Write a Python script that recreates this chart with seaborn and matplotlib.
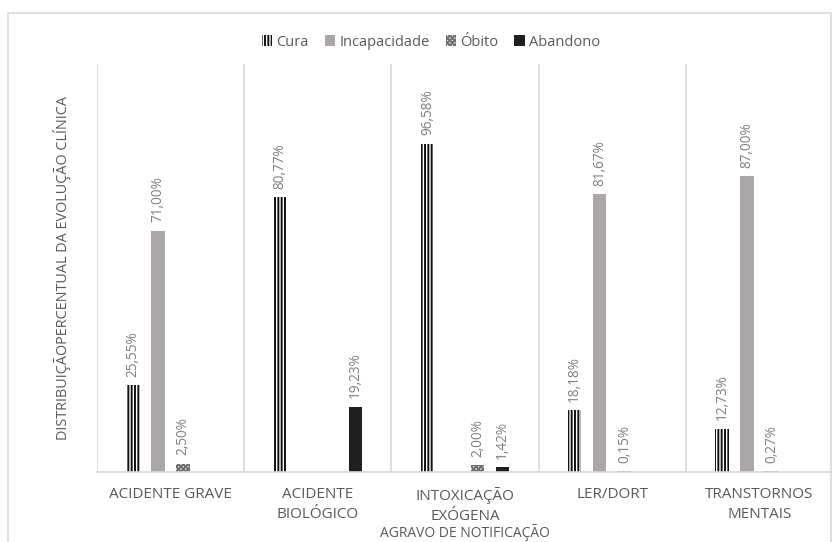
import numpy as np
import pandas as pd
import matplotlib
matplotlib.use("Agg")
import matplotlib.pyplot as plt
import matplotlib.patches as mpatches
import seaborn as sns

# Percentual da evolução clínica por agravo
agravos = ["ACIDENTE GRAVE", "ACIDENTE\nBIOLÓGICO", "INTOXICAÇÃO\nEXÓGENA",
           "LER/DORT", "TRANSTORNOS\nMENTAIS"]
evolucoes = ["Cura", "Incapacidade", "Óbito", "Abandono"]
cura = [25.55, 80.77, 96.58, 18.18, 12.73]
incapacidade = [71.00, np.nan, np.nan, 81.67, 87.00]
obito = [2.50, np.nan, 2.00, 0.15, 0.27]
abandono = [np.nan, 19.23, 1.42, np.nan, np.nan]

valores = {"Cura": cura, "Incapacidade": incapacidade,
           "Óbito": obito, "Abandono": abandono}
rows = []
for evo in evolucoes:
    for ag, v in zip(agravos, valores[evo]):
        rows.append({"agravo": ag, "evolucao": evo, "pct": v})
df = pd.DataFrame(rows)

sns.set_theme(style="white")
plt.rcParams["font.family"] = ["Open Sans", "DejaVu Sans"]
plt.rcParams["hatch.linewidth"] = 1.4

estilos = {
    "Cura": dict(facecolor="white", edgecolor="#111111", hatch="|||||"),
    "Incapacidade": dict(facecolor="#ABA7A7", edgecolor="#ABA7A7", hatch=None),
    "Óbito": dict(facecolor="white", edgecolor="#6E6E6E", hatch="xxxxxxx"),
    "Abandono": dict(facecolor="#1F1F1F", edgecolor="#1F1F1F", hatch=None),
}

fig = plt.figure(figsize=(8.32, 5.42), dpi=100)
ax = fig.add_axes([97 / 832, 70 / 542, 736 / 832, 408 / 542])

sns.barplot(data=df, x="agravo", y="pct", hue="evolucao", order=agravos,
            hue_order=evolucoes, width=0.68, gap=0.46, ax=ax, legend=False,
            errorbar=None)

texto_cinza = "#7F7F7F"
for cont, evo in zip(ax.containers, evolucoes):
    st = estilos[evo]
    for bar in cont:
        bar.set_facecolor(st["facecolor"])
        bar.set_edgecolor(st["edgecolor"])
        bar.set_linewidth(0)
        if st["hatch"]:
            bar.set_hatch(st["hatch"])
    labels = ["" if np.isnan(v) else f"{v:.2f}%".replace(".", ",")
              for v in cont.datavalues]
    ax.bar_label(cont, labels=labels, rotation=90, padding=6,
                 color=texto_cinza, fontsize=9.8)

ax.set_ylim(0, 120)
ax.set_xlim(-0.5, 4.5)
ax.set_yticks([])
for x in np.arange(-0.5, 5.0, 1.0):
    ax.axvline(x, color="#D9D9D9", lw=1.2, zorder=0)
for s in ["top", "right", "left"]:
    ax.spines[s].set_visible(False)
ax.spines["bottom"].set_color("#D9D9D9")
ax.spines["bottom"].set_linewidth(1.2)

ax.tick_params(axis="x", length=0, pad=11)
ax.set_xticks(range(len(agravos)))
ax.set_xticklabels(agravos, fontsize=11, color="#595959", linespacing=1.45)

ax.set_xlabel("AGRAVO DE NOTIFICAÇÃO", fontsize=10, color="#595959")
ax.xaxis.set_label_coords(0.5, -0.128)
ax.set_ylabel("DISTRIBUIÇÃOPERCENTUAL DA EVOLUÇÃO CLÍNICA", fontsize=10.4,
              color="#595959", labelpad=19)

handles = [mpatches.Patch(facecolor=estilos[e]["facecolor"],
                          edgecolor=estilos[e]["edgecolor"],
                          hatch=estilos[e]["hatch"], linewidth=0, label=e)
           for e in evolucoes]
fig.legend(handles=handles, loc="center", bbox_to_anchor=(0.518, 1 - 42 / 542),
           ncol=4, frameon=False, fontsize=10.5, handlelength=0.7,
           handleheight=0.7, handletextpad=0.3, columnspacing=1.1,
           labelcolor="#595959")

# moldura externa do gráfico
fig.patches.append(mpatches.Rectangle((8 / 832, -0.05), 823 / 832, 1.05 - 13 / 542,
                                      transform=fig.transFigure, fill=False,
                                      edgecolor="#D9D9D9", lw=1.2))

fig.savefig("out.png", dpi=100)
